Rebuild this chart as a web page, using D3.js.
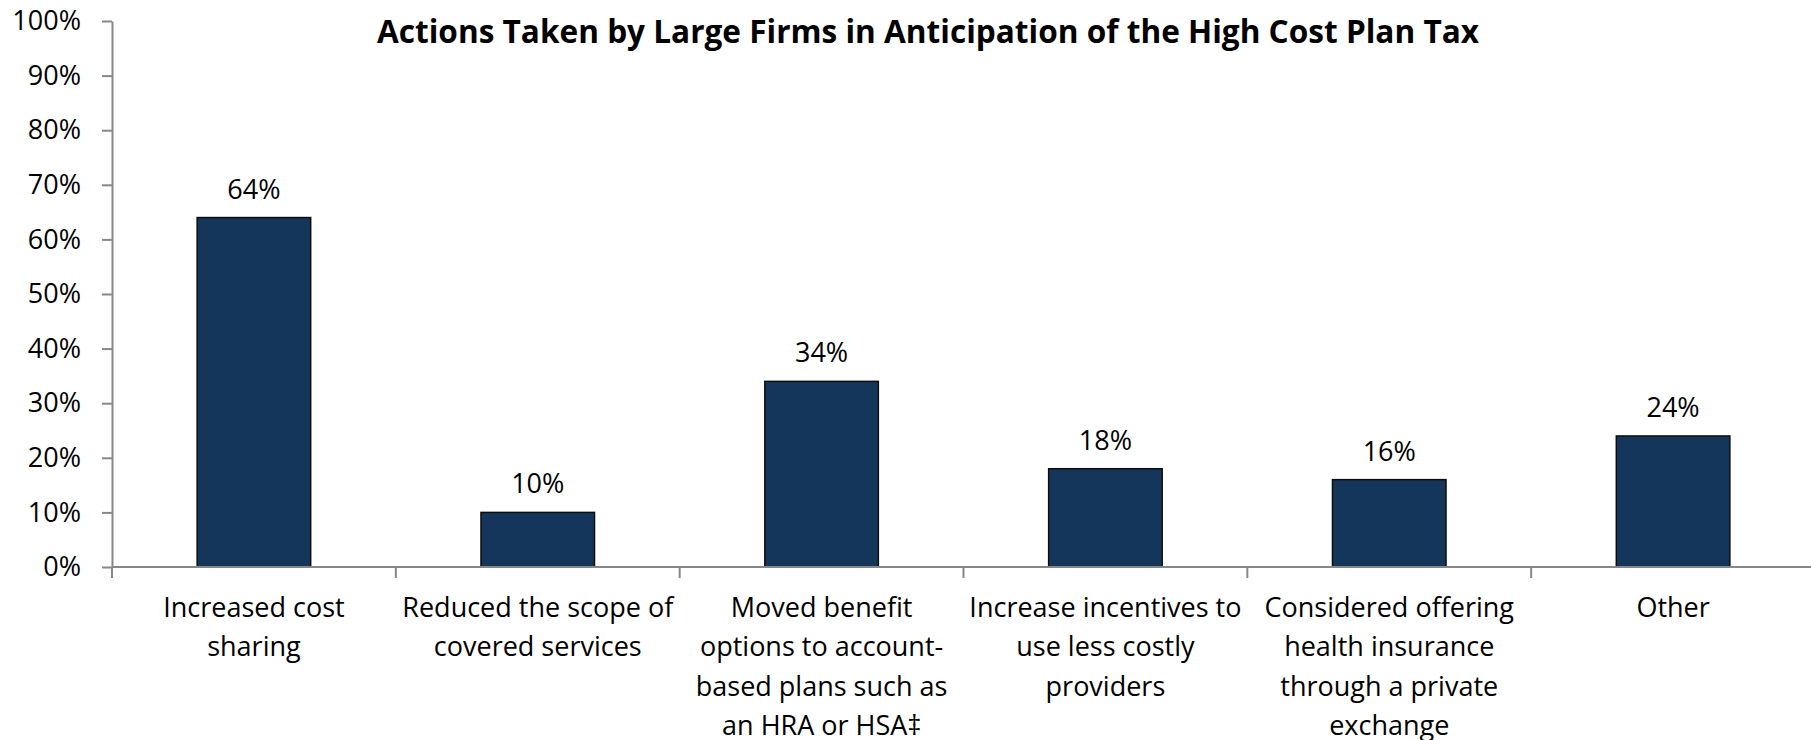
<!DOCTYPE html>
<html>
<head>
<meta charset="utf-8">
<script src="https://cdn.jsdelivr.net/npm/d3@7"></script>
<style>
  html, body { margin: 0; padding: 0; background: #fff; }
  svg { display: block; }
  text { font-family: "Open Sans", "Noto Sans", sans-serif; fill: #000; }
</style>
</head>
<body>
<svg id="chart" width="1811" height="740"></svg>
<script>
// Chart content
const chartTitle = "Actions Taken by Large Firms in Anticipation of the High Cost Plan Tax";
const categoryLines = [
  ["Increased cost", "sharing"],
  ["Reduced the scope of", "covered services"],
  ["Moved benefit", "options to account-", "based plans such as", "an HRA or HSA‡"],
  ["Increase incentives to", "use less costly", "providers"],
  ["Considered offering", "health insurance", "through a private", "exchange"],
  ["Other"]
];
const categories = categoryLines.map(l => l.join(" "));
const values = [64, 10, 34, 18, 16, 24];
const yTicks = [0, 10, 20, 30, 40, 50, 60, 70, 80, 90, 100];

// Layout
const W = 1811, H = 740;
const margin = { left: 112, top: 21, right: -4, bottom: 173 };
const plotRight = W - margin.right;
const plotBottom = H - margin.bottom;
const fontSize = 27;

const svg = d3.select("#chart");

const x = d3.scaleBand()
  .domain(categories)
  .range([margin.left, plotRight])
  .paddingInner(0.6)
  .paddingOuter(0.3);

const y = d3.scaleLinear()
  .domain([0, 100])
  .range([plotBottom, margin.top]);

const axisColor = "#878787";

// Bars
svg.append("g")
  .selectAll("rect")
  .data(values)
  .join("rect")
  .attr("x", (d, i) => x(categories[i]))
  .attr("y", d => y(d))
  .attr("width", x.bandwidth())
  .attr("height", d => y(0) - y(d))
  .attr("fill", "#15365B")
  .attr("stroke", "#0d0d0d")
  .attr("stroke-width", 1.5);

// Y axis
const yAxis = svg.append("g")
  .attr("transform", `translate(${margin.left},0)`)
  .call(d3.axisLeft(y).tickValues(yTicks).tickFormat(d => d + "%")
    .tickSize(10).tickSizeOuter(0).tickPadding(21));
yAxis.select(".domain").attr("stroke", axisColor).attr("stroke-width", 2);
yAxis.selectAll(".tick line").attr("stroke", axisColor).attr("stroke-width", 2);
yAxis.selectAll(".tick text")
  .attr("font-size", fontSize)
  .attr("font-family", "'Open Sans', 'Noto Sans', sans-serif")
  .attr("fill", "#000");

// X axis: baseline with ticks at category boundaries
const xAxis = svg.append("g");
xAxis.append("line")
  .attr("x1", margin.left).attr("x2", plotRight)
  .attr("y1", plotBottom).attr("y2", plotBottom)
  .attr("stroke", axisColor).attr("stroke-width", 2);
const boundaries = d3.range(categories.length + 1)
  .map(i => x.range()[0] + i * x.step());
xAxis.selectAll("line.bound")
  .data(boundaries)
  .join("line")
  .attr("class", "bound")
  .attr("x1", d => d).attr("x2", d => d)
  .attr("y1", plotBottom).attr("y2", plotBottom + 11)
  .attr("stroke", axisColor).attr("stroke-width", 2);

// Category labels
const labels = svg.append("g")
  .selectAll("text")
  .data(categoryLines)
  .join("text")
  .attr("text-anchor", "middle")
  .attr("font-size", fontSize)
  .attr("transform", (d, i) => `translate(${x(categories[i]) + x.bandwidth() / 2},${plotBottom + 50})`);
labels.selectAll("tspan")
  .data(d => d)
  .join("tspan")
  .attr("x", 0)
  .attr("y", (d, j) => j * 39.3)
  .text(d => d);

// Value labels
svg.append("g")
  .selectAll("text")
  .data(values)
  .join("text")
  .attr("text-anchor", "middle")
  .attr("font-size", fontSize)
  .attr("x", (d, i) => x(categories[i]) + x.bandwidth() / 2)
  .attr("y", d => y(d) - 19)
  .text(d => d + "%");

// Title
svg.append("text")
  .attr("x", 928)
  .attr("y", 43)
  .attr("text-anchor", "middle")
  .attr("font-size", 33)
  .attr("font-weight", "bold")
  .attr("textLength", 1102)
  .attr("lengthAdjust", "spacingAndGlyphs")
  .text(chartTitle);
</script>
</body>
</html>
